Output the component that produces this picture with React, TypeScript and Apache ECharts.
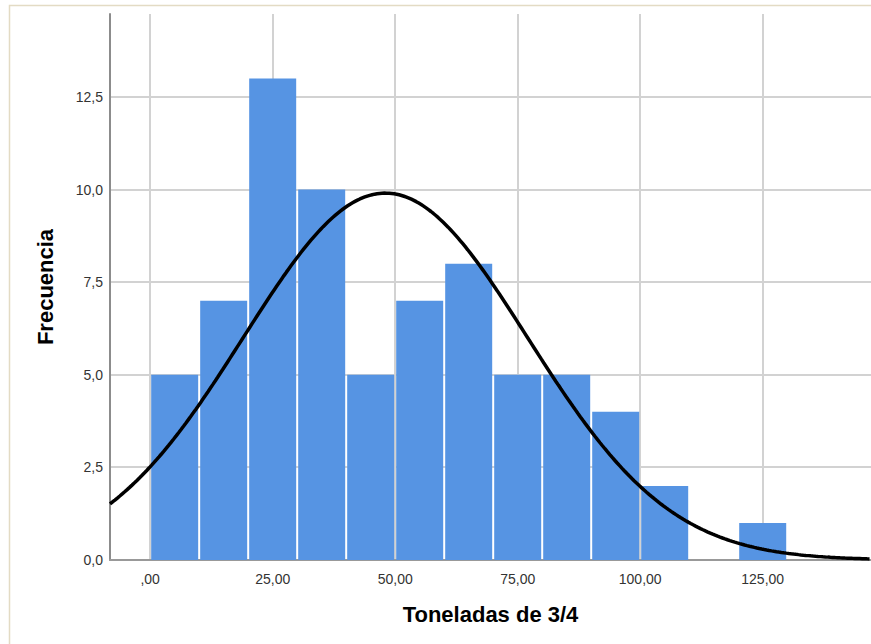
import React, { useEffect, useRef } from "react";
import * as echarts from "echarts";

// Histogram bins (lower edge, upper edge) and their frequencies
const binStarts = [0, 10, 20, 30, 40, 50, 60, 70, 80, 90, 100, 110, 120];
const binWidth = 10;
const frequencies = [5, 7, 13, 10, 5, 7, 8, 5, 5, 4, 2, 0, 1];

// Fitted normal curve parameters
const sampleMean = 48.0;
const sampleStdDev = 29.0;

// Axis ticks
const xTicks = [0, 25, 50, 75, 100, 125];
const yTicks = [0, 2.5, 5, 7.5, 10, 12.5];

const X_MIN = -8.2;
const X_MAX = 147.1;
const Y_MAX = 14.74;

const fmtX = (v: number) => {
  const s = v.toFixed(2).replace(".", ",");
  return s.startsWith("0,") ? s.slice(1) : s;
};
const fmtY = (v: number) => v.toFixed(1).replace(".", ",");

export default function App() {
  const ref = useRef<HTMLDivElement>(null);

  useEffect(() => {
    document.body.style.margin = "0";
    if (!ref.current) return;
    const chart = echarts.init(ref.current, undefined, { renderer: "svg" });

    const total = frequencies.reduce((a, b) => a + b, 0);
    const scale = (total * binWidth) / (sampleStdDev * Math.sqrt(2 * Math.PI));
    const curve: number[][] = [];
    for (let x = X_MIN; x <= X_MAX + 0.001; x += 0.5) {
      const z = (x - sampleMean) / sampleStdDev;
      curve.push([x, scale * Math.exp(-0.5 * z * z)]);
    }

    const bars = binStarts
      .map((lo, i) => [lo, lo + binWidth, frequencies[i]])
      .filter((d) => d[2] > 0);

    const font = "'Liberation Sans', Arial, sans-serif";

    chart.setOption({
      animation: false,
      backgroundColor: "#ffffff",
      grid: { left: 110, right: 0, top: 14, bottom: 84 },
      graphic: [
        {
          type: "rect",
          shape: { x: 9.5, y: 5.5, width: 900, height: 700 },
          style: { fill: "none", stroke: "#e3dbc4", lineWidth: 1.5 },
          silent: true,
          z: 100,
        },
      ],
      xAxis: {
        type: "value",
        min: X_MIN,
        max: X_MAX,
        name: "Toneladas de 3/4",
        nameLocation: "middle",
        nameGap: 43,
        nameTextStyle: { fontFamily: font, fontSize: 22, fontWeight: "bold", color: "#000" },
        axisLine: { show: true, onZero: false, lineStyle: { color: "#999999", width: 2 } },
        axisTick: { show: false },
        splitLine: { show: false },
        axisLabel: {
          customValues: xTicks,
          formatter: (v: number) => fmtX(v),
          fontFamily: font,
          fontSize: 14,
          color: "#333",
          margin: 12,
        },
      },
      yAxis: {
        type: "value",
        min: 0,
        max: Y_MAX,
        name: "Frecuencia",
        nameLocation: "middle",
        nameGap: 54,
        nameTextStyle: { fontFamily: font, fontSize: 22, fontWeight: "bold", color: "#000" },
        axisLine: { show: true, onZero: false, lineStyle: { color: "#8c8c8c", width: 2 } },
        axisTick: { show: false },
        splitLine: { show: false },
        axisLabel: {
          customValues: yTicks,
          formatter: (v: number) => fmtY(v),
          fontFamily: font,
          fontSize: 14,
          color: "#333",
          margin: 7,
        },
      },
      series: [
        {
          type: "custom",
          silent: true,
          z: 0,
          data: xTicks.map((v) => [v, 0]),
          renderItem: (params: any, api: any) => {
            const cs = params.coordSys;
            const x = Math.round(api.coord([api.value(0), 0])[0]);
            return {
              type: "line",
              shape: { x1: x, y1: cs.y, x2: x, y2: cs.y + cs.height },
              style: { stroke: "#d2d2d2", lineWidth: 2 },
            };
          },
        },
        {
          type: "custom",
          silent: true,
          z: 0,
          data: yTicks.filter((v) => v > 0).map((v) => [X_MIN, v]),
          renderItem: (params: any, api: any) => {
            const cs = params.coordSys;
            const y = Math.round(api.coord([X_MIN, api.value(1)])[1]);
            return {
              type: "line",
              shape: { x1: cs.x, y1: y, x2: cs.x + cs.width, y2: y },
              style: { stroke: "#d2d2d2", lineWidth: 2 },
            };
          },
        },
        {
          type: "custom",
          z: 2,
          encode: { x: [0, 1], y: 2 },
          data: bars,
          renderItem: (params: any, api: any) => {
            const p0 = api.coord([api.value(0), api.value(2)]);
            const p1 = api.coord([api.value(1), 0]);
            return {
              type: "rect",
              shape: {
                x: p0[0] + 1,
                y: p0[1],
                width: p1[0] - p0[0] - 2,
                height: p1[1] - p0[1],
              },
              style: { fill: "#5694e3" },
            };
          },
        },
        {
          type: "line",
          z: 5,
          data: curve,
          showSymbol: false,
          smooth: false,
          silent: true,
          lineStyle: { color: "#000000", width: 3.5 },
        },
      ],
    });

    return () => chart.dispose();
  }, []);

  return <div ref={ref} style={{ width: 871, height: 644 }} />;
}
